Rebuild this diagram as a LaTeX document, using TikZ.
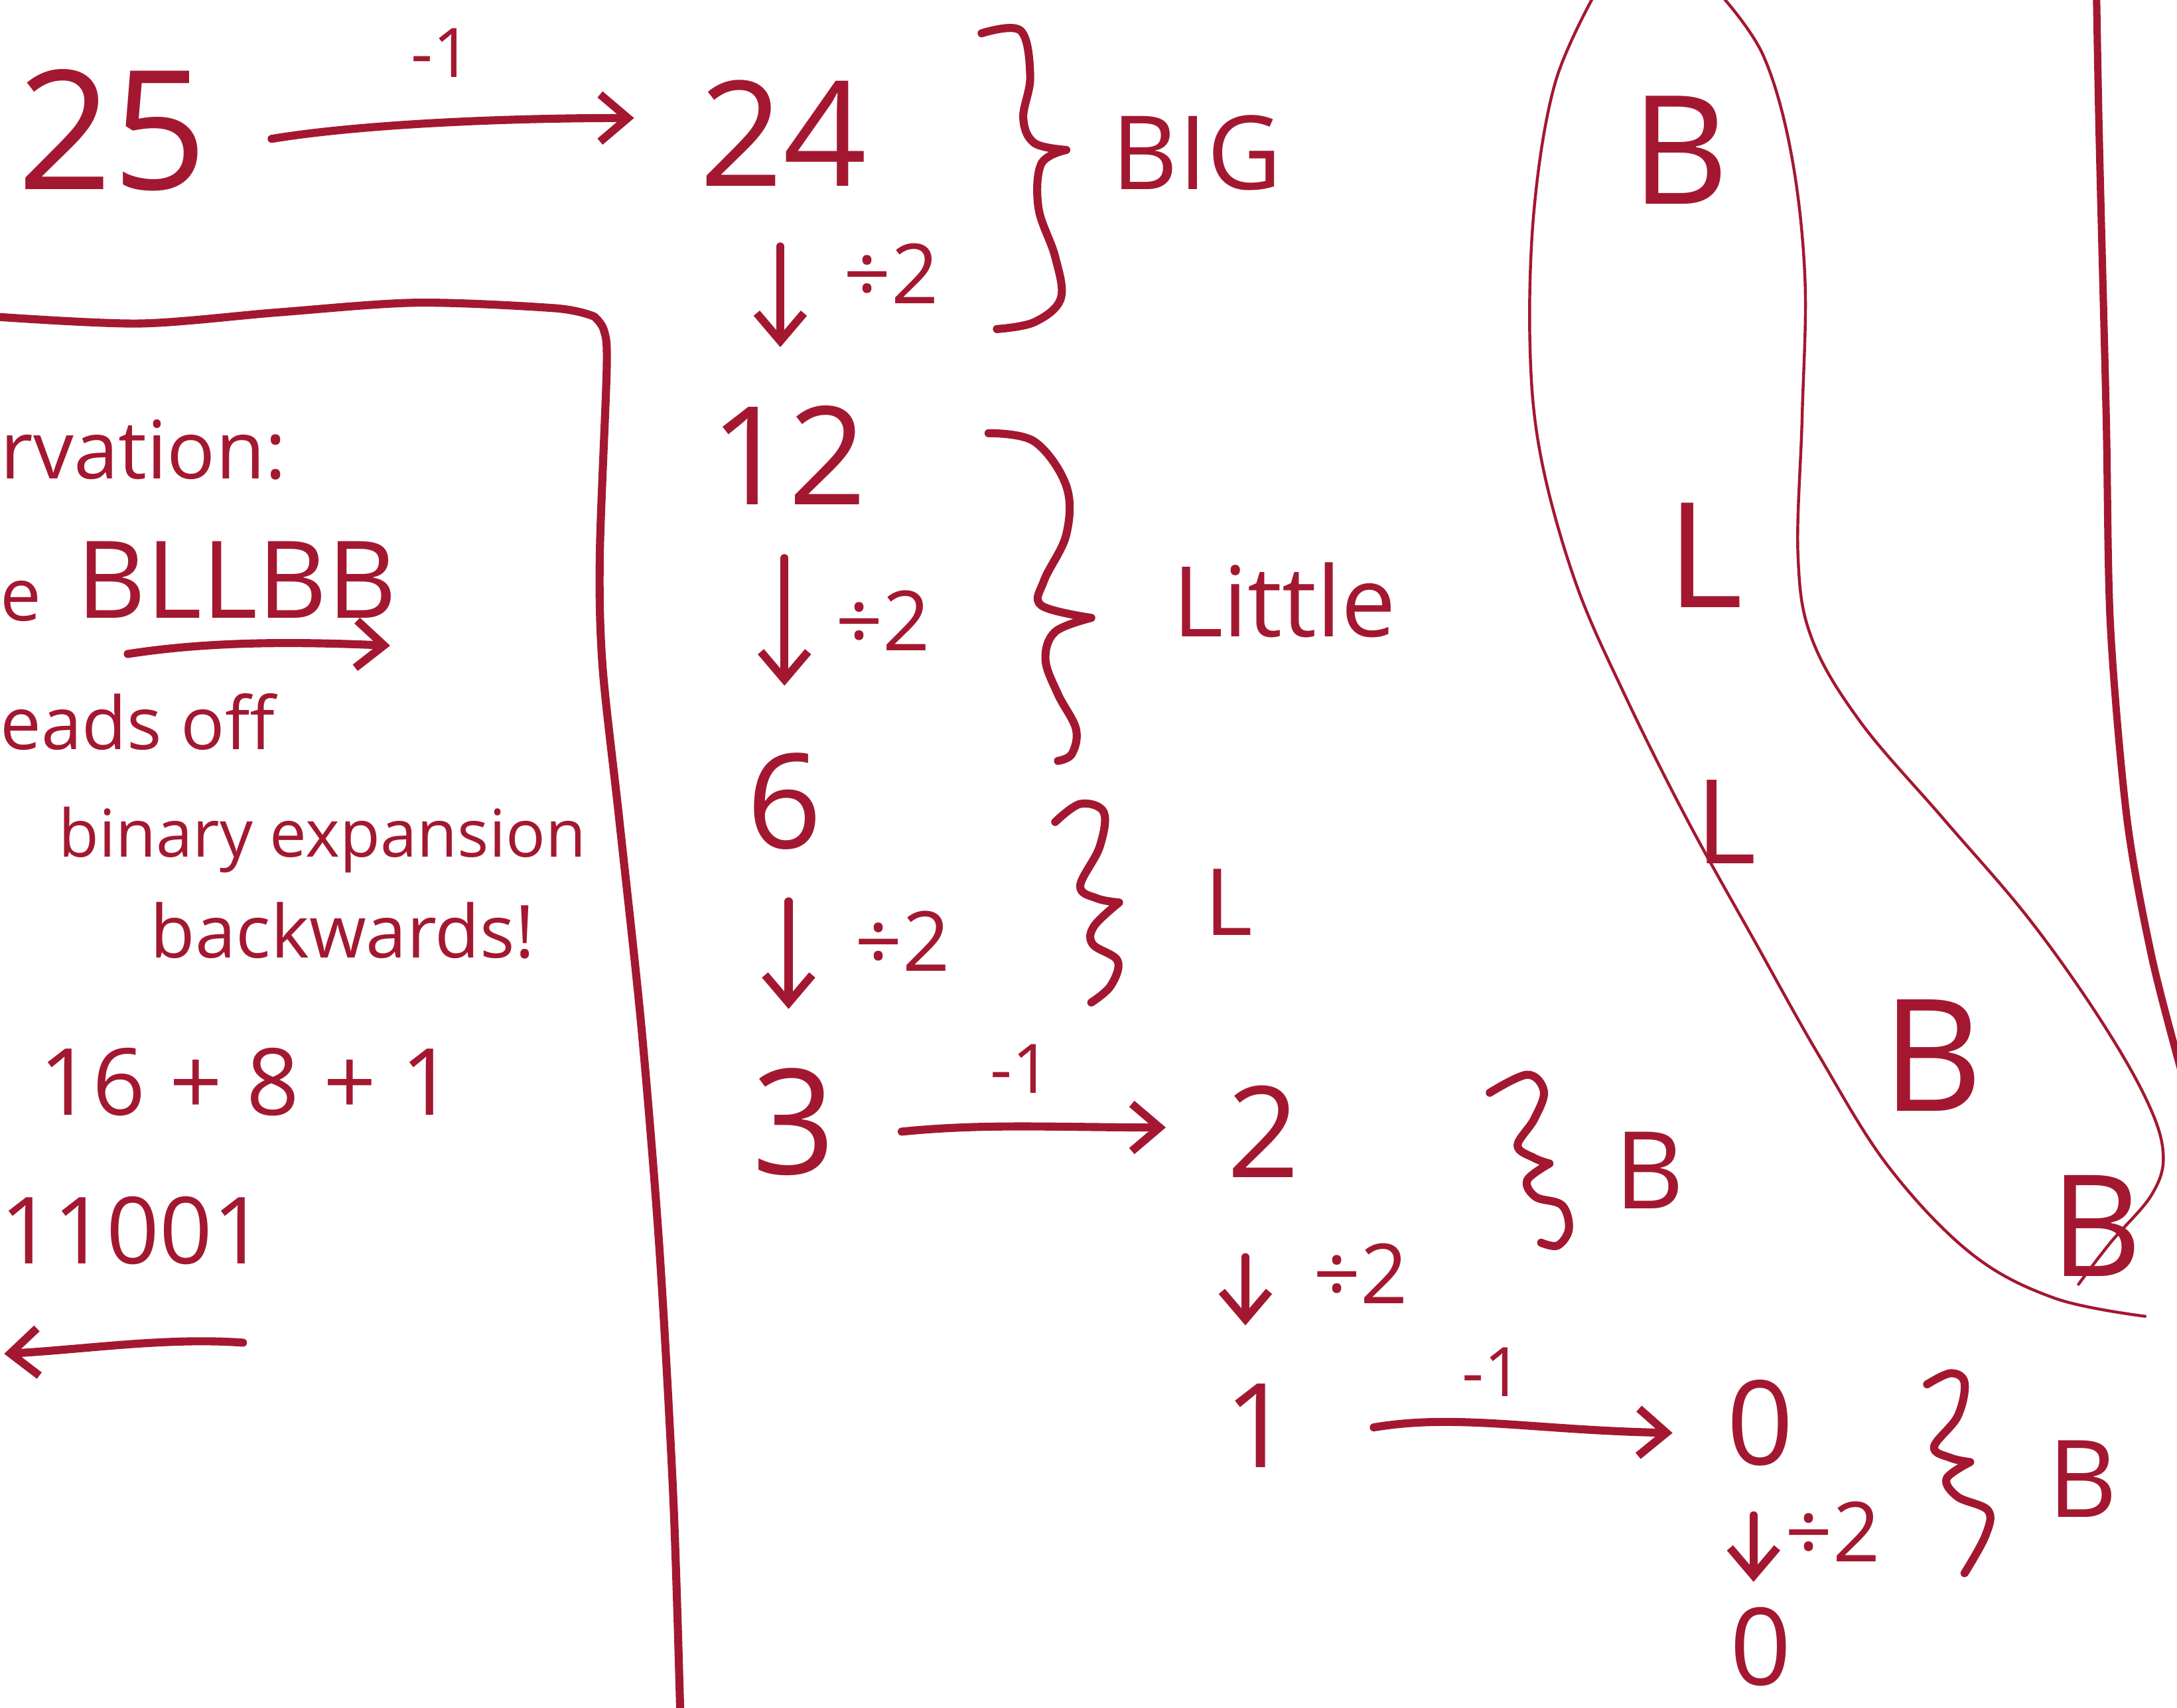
\documentclass[tikz,border=0pt]{standalone}
\usepackage{fontspec}
\setmainfont{Open Sans}
\usetikzlibrary{arrows.meta,calc}
\definecolor{ink}{RGB}{163,24,48}
\newcommand{\fsz}[1]{\fontsize{#1}{#1}\selectfont}
\begin{document}
\begin{tikzpicture}[x=0.02cm,y=-0.02cm,
  inkline/.style={draw=ink, line width=3.3pt, line cap=round, line join=round},
  conn/.style={inkline, -{Straight Barb[length=0.4cm,width=0.68cm]}},
  thinline/.style={draw=ink, line width=1.2pt, line cap=round},
  num/.style={text=ink, inner sep=0pt, anchor=center},
  txt/.style={text=ink, inner sep=0pt, anchor=base west},
  lbl/.style={text=ink, inner sep=0pt, anchor=center}]
\path[use as bounding box, fill=white] (0,0) rectangle (1568,1230);

% ---------- main chain of numbers ----------
\node[num, minimum width=2.44cm, minimum height=1.84cm, font=\fsz{68}] (n25) at (81,94) {25};
\node[num, minimum width=2.44cm, minimum height=1.44cm, font=\fsz{60}] (n24) at (564,96) {24};
\node[num, minimum width=2.06cm, minimum height=1.34cm, font=\fsz{56}] (n12) at (568,328) {12};
\node[num, minimum width=1.0cm, minimum height=1.26cm, font=\fsz{54}] (n6) at (565,577) {6};
\node[num, minimum width=1.16cm, minimum height=1.56cm, font=\fsz{60}] (n3) at (572,808) {3};
\node[num, minimum width=1.16cm, minimum height=1.2cm, font=\fsz{52}] (n2) at (910,815) {2};
\node[num, minimum width=0.4cm, minimum height=1.1cm, font=\fsz{48}] (n1) at (906,1027) {1};
\node[num, minimum width=1.16cm, minimum height=1.0cm, font=\fsz{48}] (n0a) at (1268,1025) {0};
\node[num, minimum width=1.04cm, minimum height=1.0cm, font=\fsz{44}] (n0b) at (1268,1186) {0};

% subtract-one arrows
\draw[conn] ($(n25.east)+(46,6)$) .. controls +(60,-10) and +(-100,0) .. ($(n24.west)+(-46,-11)$);
\node[lbl, font=\fsz{28}] (m1) at (318,38) {-1};
\draw[conn] ($(n3.east)+(47,7)$) .. controls +(60,-6) and +(-80,0) .. ($(n2.west)+(-41,-3)$);
\node[lbl, font=\fsz{28}] (m2) at (735,770) {-1};
\draw[conn] ($(n1.east)+(59,1)$) .. controls +(60,-10) and +(-100,-2) .. ($(n0a.west)+(-34,7)$);
\node[lbl, font=\fsz{28}] (m3) at (1075,988) {-1};

% divide-by-two arrows
\draw[conn] ($(n24.south)+(-2,43)$) -- ($(n12.north)+(-6,-42)$);
\node[lbl, font=\fsz{34}] (d1) at (642,197) {÷2};
\draw[conn] ($(n12.south)+(-3,38)$) -- ($(n6.north)+(0,-48)$);
\node[lbl, font=\fsz{34}] (d2) at (636,447) {÷2};
\draw[conn] ($(n6.south)+(3,37)$) -- ($(n3.north)+(-4,-42)$);
\node[lbl, font=\fsz{34}] (d3) at (650,678) {÷2};
\draw[conn] ($(n2.south)+(-13,57)$) -- ($(n1.north)+(-9,-42)$);
\node[lbl, font=\fsz{34}] (d4) at (980,917) {÷2};
\draw[conn] ($(n0a.south)+(-5,35)$) -- ($(n0b.north)+(-5,-18)$);
\node[lbl, font=\fsz{34}] (d5) at (1320,1103) {÷2};

% ---------- braces and their labels ----------
\draw[inkline] plot[smooth, tension=0.6] coordinates {(707,24) (735,22) (742,55) (737,85) (745,103) (768,108)}
               plot[smooth, tension=0.6] coordinates {(768,108) (750,118) (748,150) (760,185) (764,215) (745,232) (718,237)};
\node[lbl, font=\fsz{42}] (big) at (862,110) {BIG};

\draw[inkline] plot[smooth, tension=0.6] coordinates {(712,312) (745,318) (768,350) (768,385) (752,418) (750,436) (786,445)}
               plot[smooth, tension=0.6] coordinates {(786,445) (760,455) (753,475) (762,500) (775,525) (772,543) (762,548)};
\node[lbl, font=\fsz{40}] (little) at (925,432) {Little};

\draw[inkline] plot[smooth, tension=0.6] coordinates {(760,592) (778,579) (795,585) (792,610) (778,638) (790,647) (806,650)}
               plot[smooth, tension=0.6] coordinates {(806,650) (788,667) (787,680) (805,692) (800,710) (786,722)};
\node[lbl, font=\fsz{38}] (lbl) at (885,650) {L};

\draw[inkline] plot[smooth, tension=0.6] coordinates {(1073,787) (1100,774) (1112,786) (1105,806) (1093,825) (1105,834) (1116,838)}
               plot[smooth, tension=0.6] coordinates {(1116,838) (1100,850) (1106,862) (1125,868) (1130,885) (1122,897) (1110,895)};
\node[lbl, font=\fsz{44}] (b1) at (1188,843) {B};

\draw[inkline] plot[smooth, tension=0.6] coordinates {(1388,997) (1405,989) (1415,996) (1410,1020) (1393,1042) (1405,1050) (1419,1053)}
               plot[smooth, tension=0.6] coordinates {(1419,1053) (1402,1065) (1410,1078) (1432,1088) (1430,1106) (1415,1133)};
\node[lbl, font=\fsz{44}] (b2) at (1500,1065) {B};

% ---------- left box ----------
\draw[inkline] plot[smooth, tension=0.5] coordinates {(-5,228) (100,233) (200,225) (300,218) (400,222) (428,228)}
               plot[smooth, tension=0.5] coordinates {(428,228) (435,238) (437,265) (432,400) (434,480) (446,590) (462,740) (475,900) (485,1080) (490,1235)};
\node[txt, font=\fsz{33}] (t1) at (0,345) {rvation:};
\node[txt, font=\fsz{30}] (t2a) at (0,447) {e};
\node[txt, font=\fsz{44}] (t2) at (55,445) {BLLBB};
\coordinate (u1) at (92,471);
\coordinate (u2) at (281,465);
\draw[conn] (u1) .. controls (150,462) and (210,462) .. (u2);
\node[txt, font=\fsz{30}] (t3) at (0,540) {eads off};
\node[txt, font=\fsz{27}] (t4) at (42,617) {binary expansion};
\node[txt, font=\fsz{30}] (t5) at (108,690) {backwards!};
\node[txt, font=\fsz{38}] (t6) at (28,803) {16 + 8 + 1};
\node[txt, font=\fsz{38}] (t7) at (0,910) {11001};
\coordinate (w1) at (175,967);
\coordinate (w2) at (3,975);
\draw[conn] (w1) .. controls (120,963) and (60,972) .. (w2);

% ---------- right side: loop and letters ----------
\draw[thinline] plot[smooth, tension=0.6] coordinates {(1148,-3) (1120,60) (1105,150) (1102,250) (1110,330) (1135,420) (1170,500) (1215,590) (1265,680) (1310,760) (1360,840) (1420,903) (1480,935) (1545,948)};
\draw[thinline] plot[smooth, tension=0.6] coordinates {(1240,-3) (1270,40) (1290,110) (1300,200) (1298,300) (1295,400) (1305,460) (1340,520) (1400,590) (1460,660) (1510,730) (1545,790) (1558,830) (1550,860) (1520,895) (1497,925)};
\draw[draw=ink, line width=3pt, line cap=round] plot[smooth, tension=0.5] coordinates {(1510,-5) (1512,100) (1517,300) (1520,450) (1532,590) (1550,690) (1572,775)};
\node[lbl, font=\fsz{62}] (lb1) at (1210,108) {B};
\node[lbl, font=\fsz{60}] (ll1) at (1228,400) {L};
\node[lbl, font=\fsz{48}] (ll2) at (1243,592) {L};
\node[lbl, font=\fsz{64}] (lb2) at (1392,760) {B};
\node[lbl, font=\fsz{58}] (lb3) at (1510,883) {B};
\end{tikzpicture}
\end{document}
